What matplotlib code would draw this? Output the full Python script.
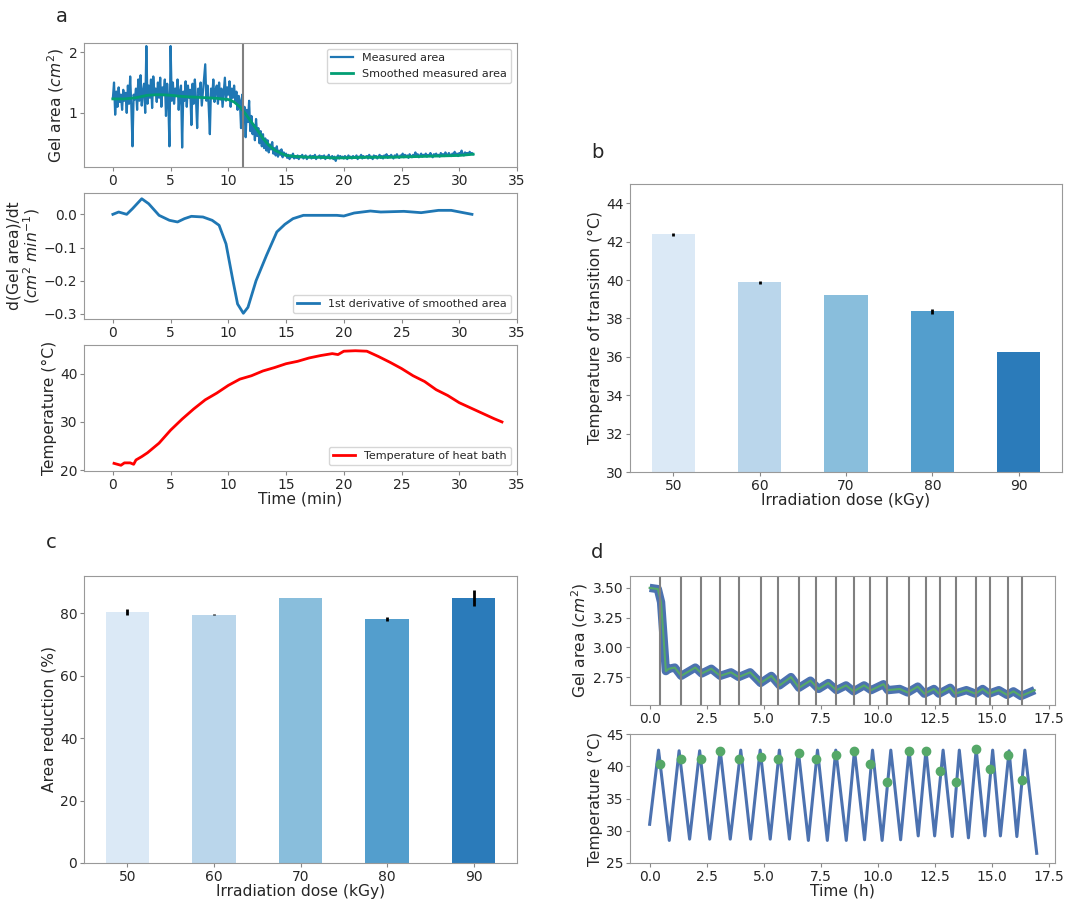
import matplotlib
matplotlib.use('Agg')
import matplotlib.pyplot as plt
import numpy as np

# --- Panel a: gel area, derivative, bath temperature (time in min) ---
area_dt = 0.1
area_measured = [
    1.24, 1.50, 0.97, 1.35, 1.10, 1.42, 1.18, 1.30, 1.05, 1.38,
    1.20, 1.33, 1.00, 1.45, 1.15, 1.60, 1.10, 0.45, 1.30, 1.22,
    1.40, 1.05, 1.55, 1.20, 1.62, 1.12, 1.35, 1.48, 1.00, 2.10,
    1.15, 1.45, 1.25, 1.55, 1.08, 1.60, 1.30, 1.40, 1.18, 1.50,
    1.25, 1.58, 1.10, 1.42, 1.30, 1.55, 0.95, 1.48, 1.20, 0.45,
    2.10, 1.20, 1.50, 1.15, 1.40, 1.28, 1.55, 1.05, 1.35, 1.45,
    0.43, 1.35, 1.20, 1.52, 1.10, 1.45, 1.25, 1.38, 0.80, 1.48,
    1.15, 1.55, 1.22, 0.75, 1.40, 1.30, 1.50, 1.12, 1.35, 1.60,
    1.80, 1.20, 1.45, 1.10, 0.65, 1.40, 1.25, 1.55, 1.18, 1.38,
    1.45, 1.15, 1.50, 1.22, 1.40, 1.10, 1.35, 1.58, 1.20, 1.42,
    1.30, 1.52, 1.10, 1.40, 1.25, 1.45, 1.20, 1.35, 1.05, 1.28,
    1.20, 0.75, 1.30, 0.90, 1.10, 0.60, 1.05, 0.85, 1.20, 0.70,
    0.95, 0.65, 0.80, 0.55, 0.90, 0.62, 0.75, 0.50, 0.70, 0.45,
    0.65, 0.42, 0.58, 0.38, 0.55, 0.35, 0.48, 0.40, 0.52, 0.33,
    0.42, 0.30, 0.45, 0.28, 0.38, 0.31, 0.40, 0.27, 0.35, 0.30,
    0.33, 0.26, 0.31, 0.24, 0.30, 0.27, 0.33, 0.25, 0.29, 0.26,
    0.30, 0.24, 0.29, 0.27, 0.31, 0.25, 0.28, 0.30, 0.24, 0.28,
    0.27, 0.30, 0.25, 0.29, 0.26, 0.31, 0.24, 0.28, 0.27, 0.30,
    0.25, 0.29, 0.26, 0.30, 0.24, 0.28, 0.26, 0.31, 0.25, 0.27,
    0.29, 0.24, 0.28, 0.21, 0.27, 0.30, 0.25, 0.29, 0.26, 0.28,
    0.25, 0.29, 0.27, 0.24, 0.30, 0.26, 0.28, 0.25, 0.29, 0.27,
    0.26, 0.30, 0.24, 0.28, 0.27, 0.31, 0.25, 0.29, 0.26, 0.28,
    0.29, 0.25, 0.31, 0.26, 0.28, 0.24, 0.30, 0.27, 0.29, 0.25,
    0.28, 0.31, 0.26, 0.29, 0.25, 0.30, 0.27, 0.32, 0.26, 0.29,
    0.27, 0.31, 0.28, 0.25, 0.30, 0.27, 0.32, 0.28, 0.26, 0.30,
    0.29, 0.33, 0.27, 0.31, 0.28, 0.30, 0.26, 0.32, 0.29, 0.27,
    0.31, 0.28, 0.35, 0.29, 0.32, 0.27, 0.30, 0.33, 0.28, 0.31,
    0.30, 0.33, 0.28, 0.31, 0.29, 0.34, 0.30, 0.27, 0.32, 0.30,
    0.33, 0.29, 0.31, 0.28, 0.34, 0.30, 0.32, 0.29, 0.35, 0.31,
    0.30, 0.34, 0.31, 0.29, 0.33, 0.30, 0.36, 0.31, 0.33, 0.29,
    0.34, 0.31, 0.38, 0.32, 0.30, 0.35, 0.32, 0.34, 0.31, 0.36,
    0.33, 0.34, 0.32,
]
smooth_t = [0, 1, 2, 3, 4, 5, 6, 7, 8, 9, 10, 10.5, 11, 11.5, 12, 12.5, 13,
            13.5, 14, 14.5, 15, 16, 17, 18, 19, 20, 22, 24, 26, 28, 30, 31.2]
smooth_v = [1.23, 1.23, 1.25, 1.29, 1.30, 1.29, 1.27, 1.26, 1.25, 1.24, 1.22,
            1.18, 1.10, 0.98, 0.85, 0.72, 0.58, 0.47, 0.39, 0.34, 0.30, 0.28,
            0.27, 0.27, 0.26, 0.26, 0.27, 0.27, 0.28, 0.29, 0.30, 0.32]
transition_min = 11.3

deriv_t = [0, 0.5, 1.2, 1.7, 2.5, 3.1, 4.0, 4.9, 5.6, 6.2, 6.8, 7.8, 8.6, 9.2,
           9.8, 10.4, 10.8, 11.3, 11.7, 12.4, 13.3, 14.2, 14.9, 15.6, 16.5,
           18.0, 19.4, 20.0, 20.9, 22.3, 23.2, 25.2, 26.7, 28.2, 29.3, 31.1]
deriv_v = [0.0, 0.007, 0.0, 0.017, 0.047, 0.032, -0.003, -0.018, -0.023,
           -0.013, -0.006, -0.008, -0.018, -0.033, -0.089, -0.200, -0.270,
           -0.298, -0.280, -0.200, -0.124, -0.053, -0.030, -0.013, -0.003,
           -0.003, -0.003, -0.005, 0.004, 0.010, 0.007, 0.009, 0.005, 0.012,
           0.012, 0.0]

bath_t = [0.1, 0.7, 1.0, 1.5, 1.8, 2.0, 2.5, 3.0, 3.5, 4.0, 5, 6, 7, 8, 9, 10,
          11, 12, 13, 14, 15, 16, 17, 18, 19, 19.5, 20, 21, 22, 23, 24, 25,
          26, 27, 28, 29, 30, 31, 32, 33, 33.7]
bath_v = [21.4, 21.0, 21.5, 21.5, 21.2, 22.1, 22.8, 23.6, 24.6, 25.6, 28.3,
          30.6, 32.7, 34.6, 36.0, 37.6, 38.9, 39.6, 40.6, 41.3, 42.1, 42.6,
          43.3, 43.8, 44.2, 44.0, 44.7, 44.8, 44.7, 43.6, 42.4, 41.1, 39.6,
          38.4, 36.7, 35.5, 34.0, 32.9, 31.8, 30.7, 30.0]

# --- Panels b and c: bar charts vs irradiation dose ---
doses = ['50', '60', '70', '80', '90']
trans_temp = [42.37, 39.87, 39.24, 38.37, 36.25]
trans_err = [0.1, 0.1, 0.0, 0.12, 0.0]
area_red = [80.4, 79.6, 85.1, 78.1, 84.9]
area_red_err = [1.0, 0.1, 0.0, 0.6, 2.6]
blues = ['#dbe9f6', '#bad6eb', '#89bedc', '#539ecd', '#2b7bba']

# --- Panel d: cycling (time in h) ---
cyc_area_t = [0, 0.36, 0.5, 0.61, 0.71, 0.85, 1.1, 1.38, 2.0, 2.28, 2.7, 3.09,
              3.56, 3.9, 4.4, 4.86, 5.33, 5.69, 6.19, 6.54, 7.04, 7.4, 7.82,
              8.18, 8.6, 8.93, 9.39, 9.7, 10.24, 10.43, 10.95, 11.3, 11.74,
              12.03, 12.45, 12.67, 13.16, 13.37, 13.87, 14.27, 14.58, 14.86,
              15.29, 15.65, 15.93, 16.26, 16.5, 16.86]
cyc_area_v = [3.50, 3.49, 3.38, 3.08, 2.80, 2.82, 2.83, 2.76, 2.83, 2.78, 2.82,
              2.76, 2.79, 2.75, 2.79, 2.70, 2.76, 2.68, 2.75, 2.66, 2.72, 2.65,
              2.70, 2.64, 2.68, 2.63, 2.68, 2.64, 2.69, 2.64, 2.65, 2.62, 2.67,
              2.61, 2.65, 2.61, 2.66, 2.61, 2.64, 2.61, 2.65, 2.61, 2.64, 2.60,
              2.63, 2.59, 2.61, 2.64]

cyc_temp_t = [0.0, 0.39, 0.86, 1.29, 1.75, 2.19, 2.63, 3.09, 3.53, 3.99, 4.42,
              4.84, 5.28, 5.68, 6.12, 6.51, 6.95, 7.35, 7.78, 8.15, 8.61, 8.97,
              9.41, 9.76, 10.18, 10.56, 10.99, 11.36, 11.76, 12.10, 12.48,
              12.85, 13.25, 13.56, 13.96, 14.30, 14.68, 15.02, 15.36, 15.74,
              16.08, 16.43, 16.95]
cyc_temp_v = [31.0, 42.5, 28.5, 42.4, 28.7, 42.4, 28.7, 42.5, 28.7, 42.5, 28.7,
              42.5, 28.7, 42.5, 28.7, 42.4, 28.5, 42.5, 28.5, 42.5, 28.5, 42.5,
              28.6, 42.5, 28.5, 42.5, 28.6, 42.5, 29.2, 42.5, 29.2, 42.5, 29.1,
              42.5, 28.9, 42.6, 29.2, 42.5, 29.2, 42.4, 29.1, 42.5, 26.5]

cycle_t = [0.47, 1.37, 2.27, 3.09, 3.91, 4.88, 5.62, 6.52, 7.27, 8.17, 8.94,
           9.67, 10.40, 11.36, 12.09, 12.73, 13.43, 14.28, 14.91, 15.70, 16.31]
cycle_temp = [40.3, 41.1, 41.1, 42.3, 41.1, 41.5, 41.1, 42.0, 41.1, 41.8,
              42.3, 40.3, 37.5, 42.3, 42.3, 39.3, 37.5, 42.6, 39.6, 41.8, 37.8]

# --- Style ---
plt.rcParams['font.family'] = 'DejaVu Sans'
plt.rcParams['text.color'] = '#262626'
plt.rcParams['axes.labelcolor'] = '#262626'
plt.rcParams['xtick.labelcolor'] = '#262626'
plt.rcParams['ytick.labelcolor'] = '#262626'
plt.rcParams['xtick.color'] = '#888888'
plt.rcParams['ytick.color'] = '#888888'
plt.rcParams['axes.edgecolor'] = '#999999'
plt.rcParams['xtick.labelsize'] = 10
plt.rcParams['ytick.labelsize'] = 10
plt.rcParams['xtick.major.size'] = 3
plt.rcParams['ytick.major.size'] = 3
plt.rcParams['xtick.major.pad'] = 1.8
plt.rcParams['ytick.major.pad'] = 1.8
plt.rcParams['axes.labelsize'] = 11.2
plt.rcParams['axes.labelpad'] = 2
plt.rcParams['legend.fontsize'] = 8

W, H = 1069, 900
fig = plt.figure(figsize=(W / 100, H / 100), dpi=100)


def box(left, top, right, bottom):
    return fig.add_axes([left / W, 1 - bottom / H, (right - left) / W, (bottom - top) / H])


ax1 = box(84, 43, 517, 167)
ax2 = box(84, 193, 517, 319)
ax3 = box(84, 345, 517, 471)
axb = box(630, 184, 1062, 472)
axc = box(84, 576, 517, 863)
axd1 = box(630, 576, 1055, 705)
axd2 = box(630, 734, 1055, 863)

# a - gel area
t_meas = np.arange(len(area_measured)) * area_dt
ax1.plot(t_meas, area_measured, color='#1f77b4', lw=1.6, label='Measured area')
ax1.plot(smooth_t, smooth_v, color='#029e73', lw=2, label='Smoothed measured area')
ax1.axvline(transition_min, color='#808080', lw=1.5)
ax1.set_xlim(-2.5, 35)
ax1.set_ylim(0.11, 2.15)
ax1.set_ylabel('Gel area ($cm^2$)')
ax1.legend(loc='upper right')

# a - derivative
ax2.plot(deriv_t, deriv_v, color='#1f77b4', lw=2, label='1st derivative of smoothed area')
ax2.set_xlim(-2.5, 35)
ax2.set_yticks([0.0, -0.1, -0.2, -0.3])
ax2.set_ylabel('d(Gel area)/dt\n($cm^2$ $min^{-1}$)', linespacing=1.0, labelpad=1)
ax2.legend(loc='lower right')

# a - temperature
ax3.plot(bath_t, bath_v, color='red', lw=2, label='Temperature of heat bath')
ax3.set_xlim(-2.5, 35)
ax3.set_yticks([20, 30, 40])
ax3.set_ylabel('Temperature (°C)')
ax3.set_xlabel('Time (min)', labelpad=0)
ax3.legend(loc='lower right')

for ax in (ax1, ax2, ax3):
    ax.set_xticks([0, 5, 10, 15, 20, 25, 30, 35])

# b
xpos = np.arange(len(doses))
axb.bar(xpos, trans_temp, width=0.5, color=blues, yerr=trans_err,
        error_kw=dict(ecolor='black', elinewidth=2, capsize=0))
axb.set_xticks(xpos)
axb.set_xticklabels(doses)
axb.set_xlim(-0.5, 4.5)
axb.set_ylim(30, 45)
axb.set_yticks([30, 32, 34, 36, 38, 40, 42, 44])
axb.set_ylabel('Temperature of transition (°C)')
axb.set_xlabel('Irradiation dose (kGy)', labelpad=0)

# c
axc.bar(xpos, area_red, width=0.5, color=blues, yerr=area_red_err,
        error_kw=dict(ecolor='black', elinewidth=2, capsize=0))
axc.set_xticks(xpos)
axc.set_xticklabels(doses)
axc.set_xlim(-0.5, 4.5)
axc.set_ylim(0, 92)
axc.set_yticks([0, 20, 40, 60, 80])
axc.set_ylabel('Area reduction (%)')
axc.set_xlabel('Irradiation dose (kGy)', labelpad=0)

# d - gel area with cycle markers
axd1.plot(cyc_area_t, cyc_area_v, color='#4c72b0', lw=6, solid_capstyle='butt')
axd1.plot(cyc_area_t, cyc_area_v, color='#55a868', lw=1.5)
for ct in cycle_t:
    axd1.axvline(ct, color='#808080', lw=1.5)
axd1.set_xlim(-0.86, 17.75)
axd1.set_ylim(2.515, 3.60)
axd1.set_yticks([2.75, 3.00, 3.25, 3.50])
axd1.set_yticklabels(['2.75', '3.00', '3.25', '3.50'])
axd1.set_ylabel('Gel area ($cm^2$)')

# d - temperature
axd2.plot(cyc_temp_t, cyc_temp_v, color='#4c72b0', lw=2.2)
axd2.plot(cycle_t, cycle_temp, 'o', color='#55a868', ms=6)
axd2.set_xlim(-0.86, 17.75)
axd2.set_ylim(25, 45)
axd2.set_yticks([25, 30, 35, 40, 45])
axd2.set_ylabel('Temperature (°C)')
axd2.set_xlabel('Time (h)', labelpad=0)

for ax in (axd1, axd2):
    ax.set_xticks([0, 2.5, 5, 7.5, 10, 12.5, 15, 17.5])
    ax.set_xticklabels(['0.0', '2.5', '5.0', '7.5', '10.0', '12.5', '15.0', '17.5'])

# panel letters
fig.text(62 / W, 1 - 16 / H, 'a', fontsize=14, ha='center', va='center')
fig.text(597 / W, 1 - 152 / H, 'b', fontsize=14, ha='center', va='center')
fig.text(51 / W, 1 - 543 / H, 'c', fontsize=14, ha='center', va='center')
fig.text(597 / W, 1 - 552 / H, 'd', fontsize=14, ha='center', va='center')

fig.savefig('out.png', dpi=100)
